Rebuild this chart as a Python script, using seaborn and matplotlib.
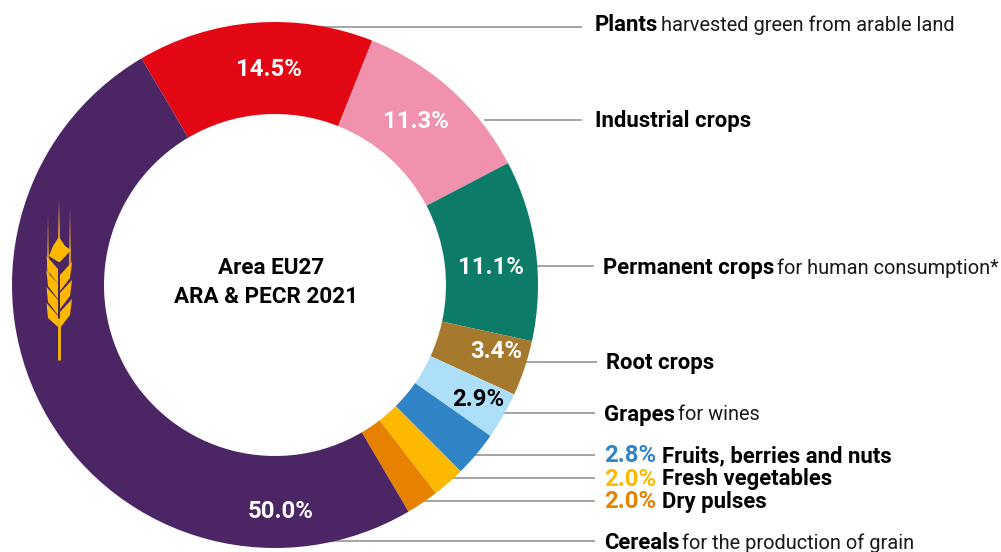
import matplotlib
matplotlib.use('Agg')
import matplotlib.pyplot as plt
import seaborn as sns

# clockwise from the top-left edge of the red slice
shares = [14.5, 11.3, 11.1, 3.4, 2.9, 2.8, 2.0, 2.0, 50.0]
share_labels = ['14.5%', '11.3%', '11.1%', '3.4%', '2.9%', '2.8%', '2.0%', '2.0%', '50.0%']
colours = ['#e30613', '#f092ae', '#0c7c68', '#a57a2e', '#aedff8',
           '#3083c4', '#fdb900', '#e68200', '#4c2565']
bold_names = ['Plants', 'Industrial crops', 'Permanent crops', 'Root crops', 'Grapes',
              'Fruits, berries and nuts', 'Fresh vegetables', 'Dry pulses', 'Cereals']
rest_names = ['harvested green from arable land', '', 'for human consumption*', '', 'for wines',
              '', '', '', 'for the production of grain']

W, H = 1001, 552
CX, CY, R = 275, 285, 263


def flip(y):
    return H - y


sns.set_theme(style='white')
plt.rcParams['font.family'] = ['Roboto', 'DejaVu Sans']
palette = sns.color_palette(colours)

fig = plt.figure(figsize=(W / 100, H / 100), dpi=100)
ax = fig.add_axes([0, 0, 1, 1])

ax.pie(shares, colors=palette, startangle=120.5, counterclock=False, normalize=True,
       center=(CX, flip(CY)), radius=R, wedgeprops=dict(width=R - 171, linewidth=0))
ax.set_xlim(0, W)
ax.set_ylim(0, H)
ax.set_aspect('equal')
ax.axis('off')

# leader lines: y, x start, x end (drawn behind the ring)
leaders = [(27, 288, 582), (120, 484, 582), (266, 530, 594), (362, 520, 597), (413, 500, 595),
           (455, 470, 595), (478, 448, 595), (501, 420, 595), (541, 330, 595)]
for y, x0, x1 in leaders:
    ax.plot([x0, x1], [flip(y), flip(y)], color='#8c8c8c', lw=1.1, zorder=0.5, solid_capstyle='butt')

# percent labels on the ring
inside = [(269, 69, 'white'), (416, 121, 'white'), (491, 268, 'white'), (496, 352, 'white'),
          (478, 400, 'black')]
for (x, y, c), lab in zip(inside, share_labels[:5]):
    ax.text(x, flip(y), lab, color=c, fontsize=17.2, fontweight='bold', ha='center', va='center')
ax.text(281, flip(512), share_labels[8], color='white', fontsize=17.2, fontweight='bold',
        ha='center', va='center')

ax.text(271.5, flip(268), 'Area EU27', fontsize=16.2, fontweight='bold', color='black', ha='center', va='center')
ax.text(265.5, flip(297), 'ARA & PECR 2021', fontsize=16.2, fontweight='bold', color='black', ha='center', va='center')

# right hand labels
rend = fig.canvas.get_renderer()
name_pos = [(595, 25), (595, 121), (603, 268), (606, 363), (604, 415), (662, 456), (662, 479), (662, 502), (604, 543)]
for (x, y), b, r in zip(name_pos, bold_names, rest_names):
    t = ax.text(x, flip(y), b, fontsize=15.9, fontweight='bold', color='black', va='center', ha='left')
    if r:
        box = t.get_window_extent(rend)
        ax.text(box.x1 + 3, flip(y), r, fontsize=14.4, color='#1a1a1a', va='center', ha='left')

for i, y in zip([5, 6, 7], [456, 479, 502]):
    ax.text(604, flip(y), share_labels[i], fontsize=17.2, fontweight='bold', color=palette[i], va='center', ha='left')

# wheat ear
gold = '#fdb900'
ax.plot([59, 59], [flip(318), flip(360)], color=gold, lw=2, solid_capstyle='butt', zorder=3)
for x, y0, y1 in [(48, 215, 275), (70, 207, 270), (59, 200, 242)]:
    ax.fill([x - 1.3, x, x + 1.3], [flip(y1), flip(y0), flip(y1)], color='#c9923a', lw=0, zorder=3)
ax.fill([59, 65, 71, 60, 58.5, 49, 53], [flip(237), flip(246), flip(250), flip(262), flip(262), flip(256), flip(246)],
        color=gold, lw=0, zorder=4)
for y in [256, 271, 287, 303]:
    ax.fill([46.5, 58, 58, 48], [flip(y), flip(y + 13), flip(y + 28 if y < 303 else y + 24), flip(y + 15)],
            color=gold, lw=0, zorder=4)
for y in [262, 280, 299]:
    ax.fill([72, 60, 60, 70], [flip(y), flip(y + 13), flip(y + 29), flip(y + 16)],
            color=gold, lw=0, zorder=4)

fig.savefig('out.png', dpi=100, facecolor='white')
